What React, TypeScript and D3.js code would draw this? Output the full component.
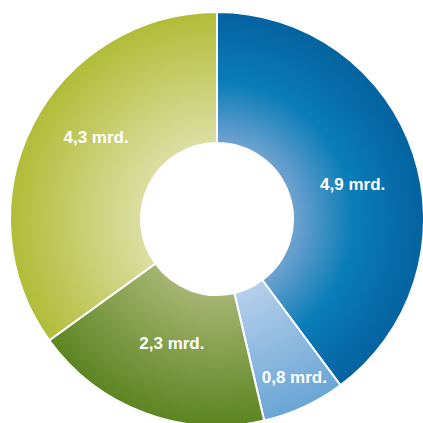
import React from "react";
import * as d3 from "d3";

const categories = ["A", "B", "C", "D"];
const values = [4.9, 0.8, 2.3, 4.3];
const labels = ["4,9 mrd.", "0,8 mrd.", "2,3 mrd.", "4,3 mrd."];

const gradients = [
  [["0.37", "#6fa2cf"], ["0.66", "#0a7db8"], ["1", "#0462a0"]],
  [["0.37", "#b4cfea"], ["1", "#69a5d5"]],
  [["0.37", "#a6b471"], ["1", "#5b8521"]],
  [["0.37", "#dcdea2"], ["1", "#b1bc37"]],
];

const labelR = [140, 176, 132, 146];
const labelDA = [4, -1.2, -0.5, 7];

export default function App() {
  const W = 423, H = 423;
  const cx = 217, cy = 219;
  const rIn = 76, rOut = 207;
  const pie = d3.pie<number>().sort(null).value((d) => d).startAngle(0).endAngle(2 * Math.PI);
  const arcs = pie(values);
  const arc = d3.arc<d3.PieArcDatum<number>>().innerRadius(rIn).outerRadius(rOut);
  return (
    <svg width={W} height={H} style={{ position: "absolute", left: 0, top: 0 }}>
      <defs>
        {gradients.map((g, i) => (
          <radialGradient key={i} id={`g${i}`} gradientUnits="userSpaceOnUse" cx={0} cy={0} r={rOut}>
            {g.map(([o, c], j) => (
              <stop key={j} offset={o} stopColor={c} />
            ))}
          </radialGradient>
        ))}
      </defs>
      <g transform={`translate(${cx},${cy})`}>
        {arcs.map((a, i) => (
          <path key={categories[i]} d={arc(a) || ""} fill={`url(#g${i})`} stroke="#fff" strokeWidth={2} />
        ))}
        {arcs.map((a, i) => {
          const ang = (a.startAngle + a.endAngle) / 2 + (labelDA[i] * Math.PI) / 180;
          const x = Math.sin(ang) * labelR[i];
          const y = -Math.cos(ang) * labelR[i];
          return (
            <text
              key={"t" + i}
              x={x}
              y={y}
              textAnchor="middle"
              dominantBaseline="central"
              fill="#fff"
              fontFamily="'Liberation Sans', Arial, sans-serif"
              fontWeight="bold"
              fontSize={17}
            >
              {labels[i]}
            </text>
          );
        })}
      </g>
    </svg>
  );
}
